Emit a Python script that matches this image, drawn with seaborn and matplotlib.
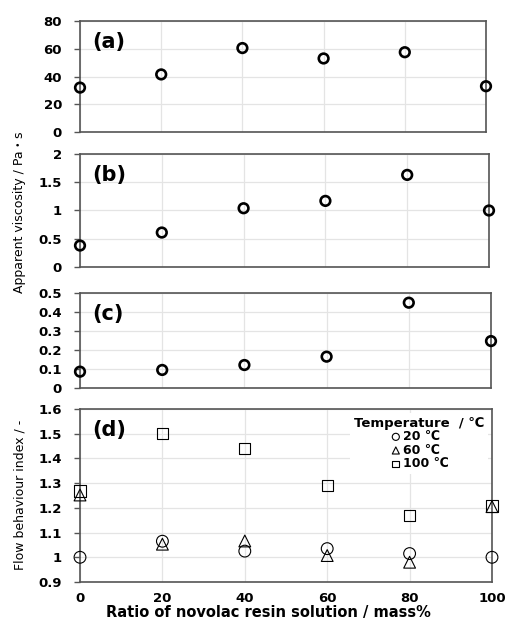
import matplotlib
matplotlib.use("Agg")
import matplotlib.pyplot as plt
import seaborn as sns
import pandas as pd
from matplotlib.ticker import FuncFormatter, MultipleLocator

# ---- data ----
ratio = [0, 20, 40, 60, 80, 100]
visc_a = [32, 41.5, 60.5, 53, 57.5, 33]
visc_b = [0.38, 0.61, 1.04, 1.17, 1.63, 1.0]
visc_c = [0.086, 0.095, 0.121, 0.165, 0.449, 0.247]
n_20 = [1.0, 1.065, 1.025, 1.035, 1.015, 1.0]
n_60 = [1.252, 1.053, 1.066, 1.007, 0.98, 1.205]
n_100 = [1.268, 1.50, 1.44, 1.29, 1.17, 1.207]
temp_labels = ["20 \u2103", "60 \u2103", "100 \u2103"]
panel_labels = ["(a)", "(b)", "(c)", "(d)"]
x_ticks = [0, 20, 40, 60, 80, 100]

sns.set_style("whitegrid", {"grid.color": "#e4e4e4", "axes.edgecolor": "#555555",
                            "text.color": "black", "xtick.color": "black",
                            "ytick.color": "black"})
plt.rcParams["font.family"] = ["DejaVu Sans", "Noto Sans CJK JP"]
plt.rcParams["text.color"] = "black"

W, H = 508, 619
fig = plt.figure(figsize=(W / 100, H / 100), dpi=100)

def mk_ax(left, right, top, bottom):
    return fig.add_axes([left / W, 1 - bottom / H, (right - left) / W, (bottom - top) / H])

ax_a = mk_ax(80, 486, 21, 132)
ax_b = mk_ax(80, 489, 154, 267)
ax_c = mk_ax(80, 491, 293, 388)
ax_d = mk_ax(80, 492, 409, 582)

fmt = FuncFormatter(lambda v, p: f"{round(v, 3):g}")

panels = [
    (ax_a, visc_a, (0, 80), 20),
    (ax_b, visc_b, (0, 2), 0.5),
    (ax_c, visc_c, (0, 0.5), 0.1),
]

for ax, vals, ylim, step in panels:
    df = pd.DataFrame({"ratio": ratio, "val": vals})
    sns.scatterplot(data=df, x="ratio", y="val", ax=ax, marker="o", s=48,
                    facecolor="none", edgecolor="black", linewidth=1.9,
                    clip_on=False, zorder=5)
    ax.set_ylim(*ylim)
    ax.yaxis.set_major_locator(MultipleLocator(step))

# panel d
dfs = [("o", n_20, 72), ("^", n_60, 72), ("s", n_100, 66)]
for (m, vals, s), lab in zip(dfs, temp_labels):
    df = pd.DataFrame({"ratio": ratio, "val": vals})
    sns.scatterplot(data=df, x="ratio", y="val", ax=ax_d, marker=m, s=s,
                    facecolor="none", edgecolor="black", linewidth=0.8,
                    clip_on=False, zorder=5, label=lab)
ax_d.set_ylim(0.9, 1.6)
ax_d.yaxis.set_major_locator(MultipleLocator(0.1))

for ax in [ax_a, ax_b, ax_c, ax_d]:
    ax.set_xlim(0, 100)
    ax.set_xticks(x_ticks)
    ax.yaxis.set_major_formatter(fmt)
    ax.set_xlabel("")
    ax.set_ylabel("")
    ax.grid(True, color="#e4e4e4", linewidth=0.9)
    for s in ax.spines.values():
        s.set_linewidth(1.2)
        s.set_color("#555555")
    ax.tick_params(axis="y", left=True, length=4, width=1, color="#555555", pad=9,
                   labelsize=9.5, labelcolor="black")
    ax.tick_params(axis="x", length=0, pad=7.5, labelsize=9.5, labelcolor="black")
    for t in ax.get_yticklabels():
        t.set_fontweight("bold")

for ax in [ax_a, ax_b, ax_c]:
    ax.set_xticklabels([])
ax_d.set_xticklabels([str(v) for v in x_ticks], fontweight="bold")

leg = ax_d.legend(title="Temperature  / \u2103", loc="upper right",
                  frameon=True, facecolor="white", edgecolor="none", framealpha=1,
                  fontsize=9, title_fontsize=9.5, markerscale=0.6,
                  handletextpad=0.1, labelspacing=0.05, borderpad=0.3,
                  handlelength=1.0, borderaxespad=0.3)
leg.get_title().set_fontweight("bold")
leg.get_title().set_color("black")
for t in leg.get_texts():
    t.set_fontweight("bold")
    t.set_color("black")

for ax, lab in zip([ax_a, ax_b, ax_c, ax_d], panel_labels):
    ax.annotate(lab, xy=(0, 1), xycoords="axes fraction", xytext=(9, -8),
                textcoords="offset points", ha="left", va="top",
                fontsize=15, fontweight="bold", color="black")

fig.text(20 / W, 1 - 212 / H, "Apparent viscosity / Pa\u30fbs", rotation=90,
         ha="center", va="center", fontsize=9, color="black")
fig.text(20 / W, 1 - 495 / H, "Flow behaviour index / -", rotation=90,
         ha="center", va="center", fontsize=9, color="black")
fig.text(268 / W, 1 - 613 / H, "Ratio of novolac resin solution / mass%",
         ha="center", va="center", fontsize=10.5, fontweight="bold", color="black")

fig.savefig("out.png", dpi=100)
